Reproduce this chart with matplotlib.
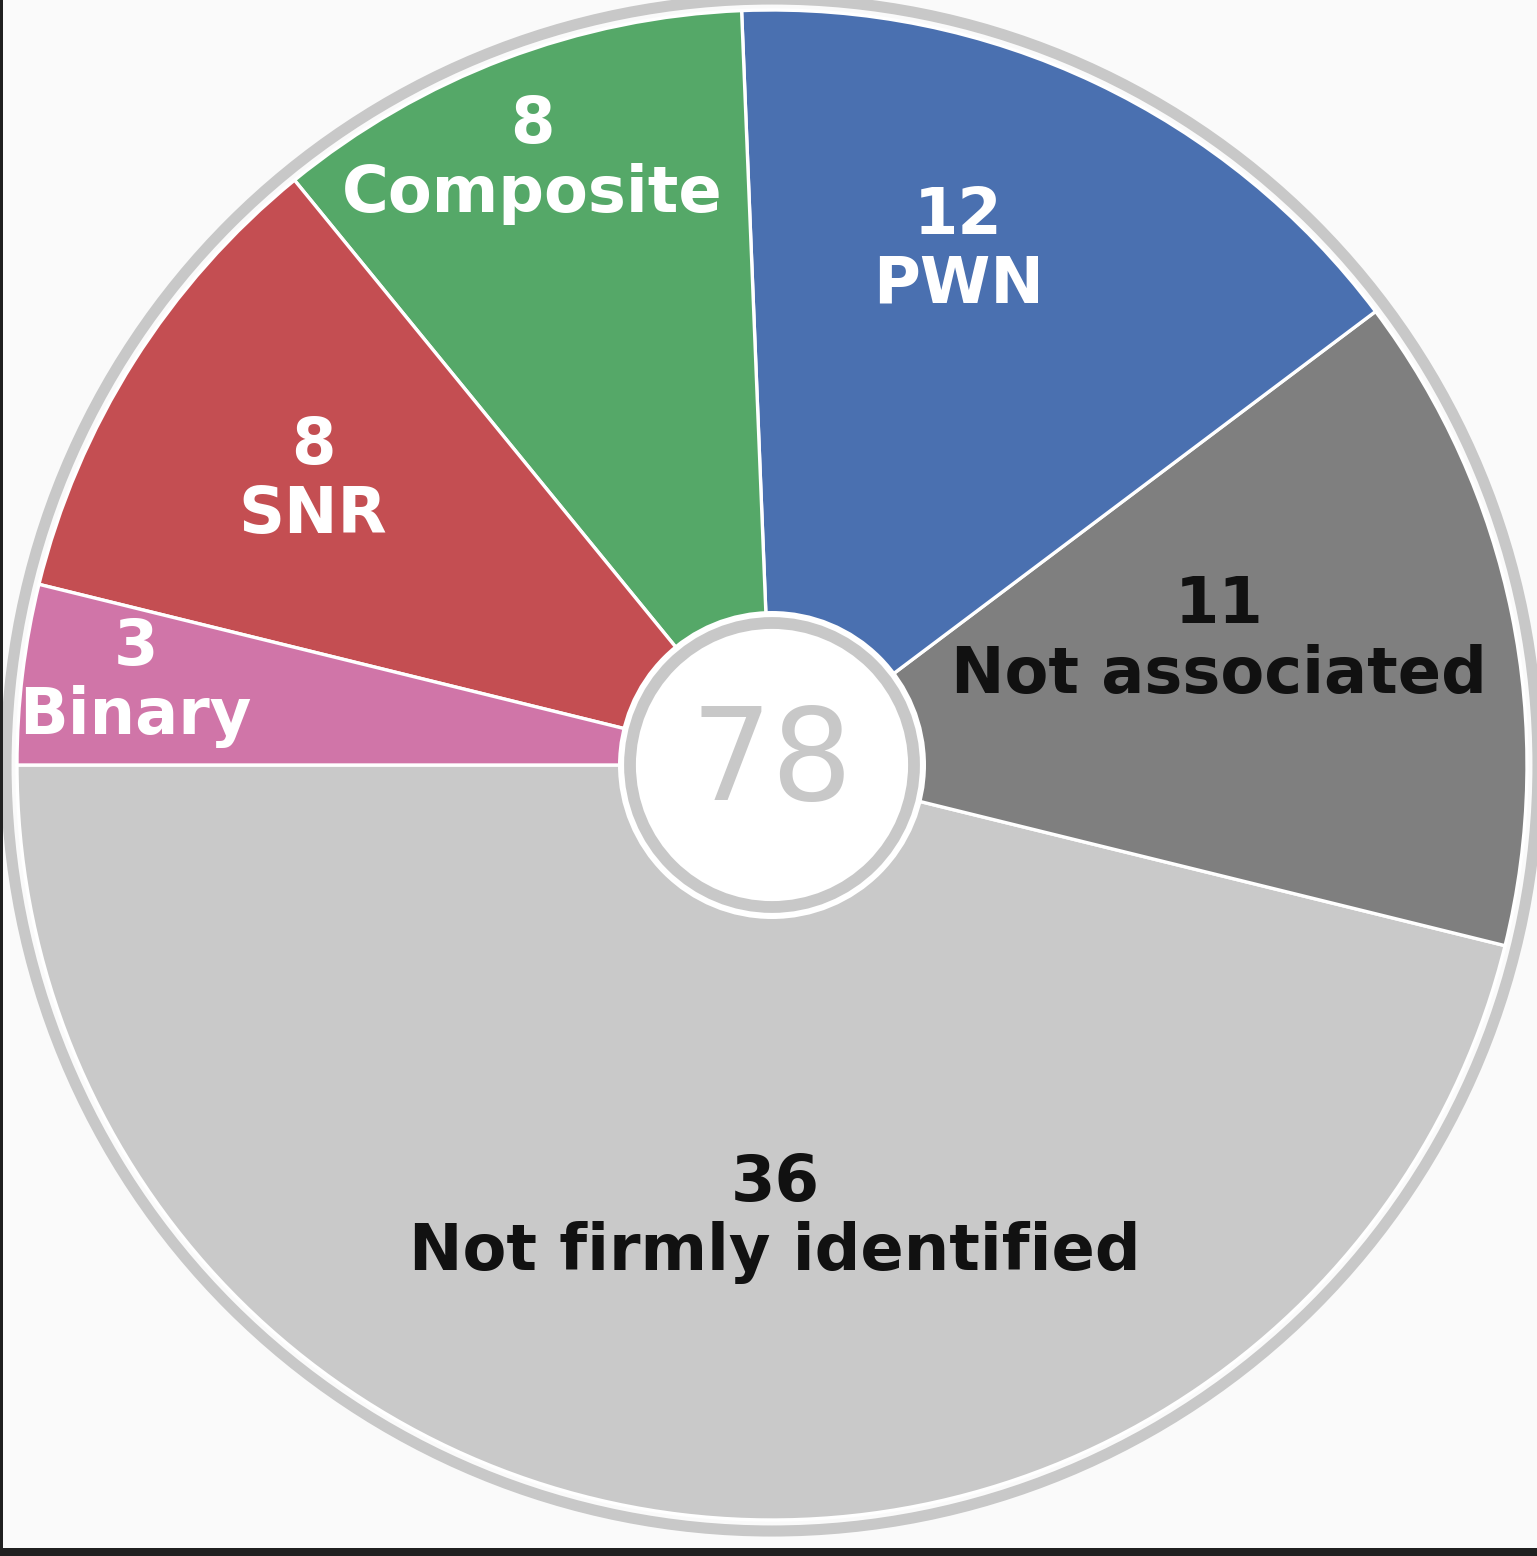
import matplotlib
matplotlib.use("Agg")
import matplotlib.pyplot as plt
from matplotlib.patches import Circle, Rectangle
import numpy as np

# data, counterclockwise from the left horizontal
names = ["Not firmly identified", "Not associated", "PWN", "Composite", "SNR", "Binary"]
counts = [36, 11, 12, 8, 8, 3]
colors = ["#c9c9c9", "#7f7f7f", "#4a70b0", "#55a868", "#c44e52", "#d075a8"]
txtcol = ["#111111", "#111111", "white", "white", "white", "white"]
total = sum(counts)

# label placement (fraction of radius, angle shift in deg)
lab_r = [0.60, 0.615, 0.725, 0.862, 0.715, 0.85]
lab_dt = [7.3, 4.1, 5.5, 0.8, 0.5, -0.5]

W, H = 1537, 1556
fig = plt.figure(figsize=(W / 100, H / 100), dpi=100, facecolor="#fafafa")
ax = fig.add_axes([0, 0, 1, 1])
ax.set_facecolor("#fafafa")

R = 755.0  # pie radius in px
cx, cy = 772.0, H - 765.0

wedges, _ = ax.pie(counts, colors=colors, startangle=180, counterclock=True,
                   radius=1.0, center=(0, 0),
                   wedgeprops=dict(edgecolor="white", linewidth=2.4))
ax.set_xlim(-cx / R, (W - cx) / R)
ax.set_ylim(-cy / R, (H - cy) / R)
ax.set_aspect("equal")
ax.axis("off")

# outer grey ring
ax.add_patch(Circle((0, 0), 766 / R, fill=False, edgecolor="#c8c8c8", linewidth=8))

# centre disc
ax.add_patch(Circle((0, 0), 154 / R, facecolor="white", edgecolor="none", zorder=5))
ax.add_patch(Circle((0, 0), 142 / R, facecolor="white", edgecolor="#c8c8c8",
                    linewidth=8.5, zorder=6))
ax.text(0, 0, str(total), ha="center", va="center", fontsize=92,
        color="#c8c8c8", family="DejaVu Sans", zorder=7)

for w, n, c, tc, r, dt in zip(wedges, names, counts, txtcol, lab_r, lab_dt):
    th = np.deg2rad((w.theta1 + w.theta2) / 2 + dt)
    ax.text(r * np.cos(th), r * np.sin(th), f"{c}\n{n}", ha="center", va="center",
            fontsize=46, fontweight="bold", color=tc, linespacing=1.15,
            family="DejaVu Sans", zorder=4)

# screenshot frame edges
fig.patches.append(Rectangle((0, 0), 3 / W, 1, transform=fig.transFigure,
                             facecolor="#202020", edgecolor="none"))
fig.patches.append(Rectangle((0, 0), 1, 8 / H, transform=fig.transFigure,
                             facecolor="#202020", edgecolor="none"))

fig.savefig("out.png", dpi=100, facecolor=fig.get_facecolor())
